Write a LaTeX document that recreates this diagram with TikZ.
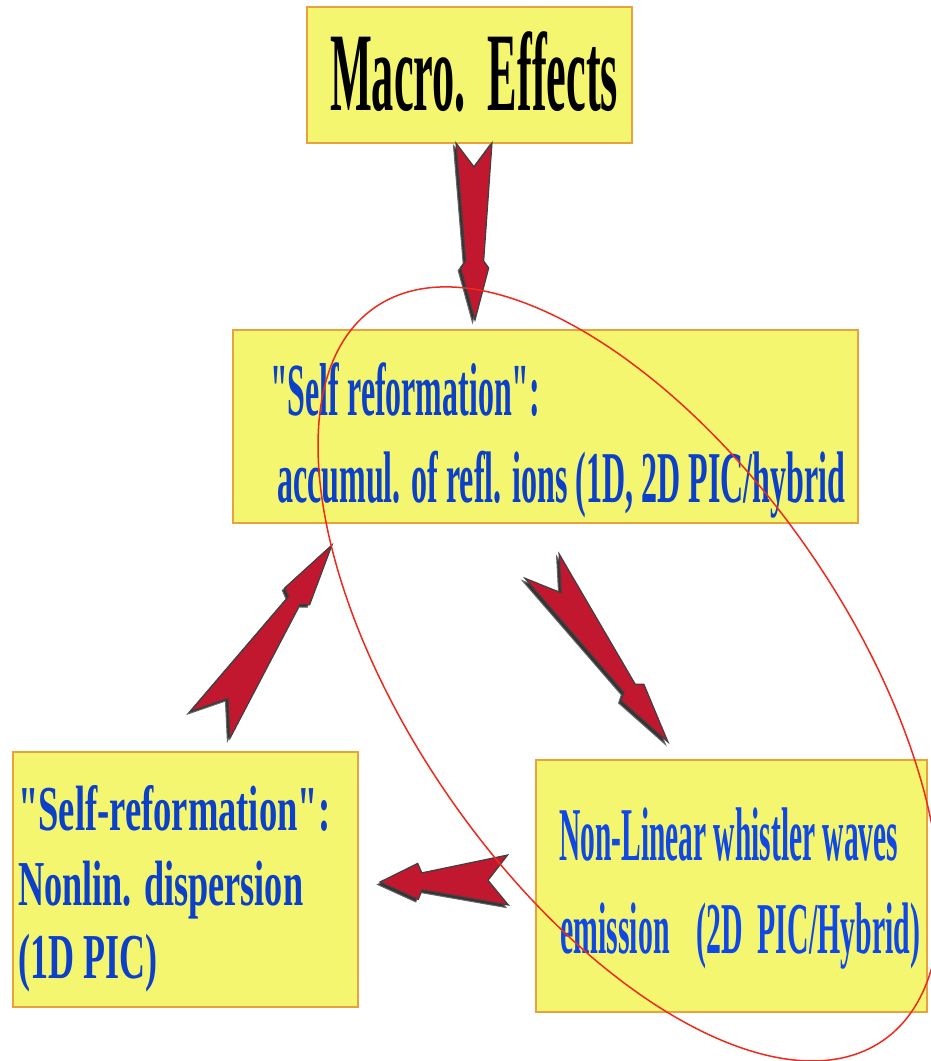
\documentclass[tikz,border=0pt]{standalone}
\usepackage{fontspec}
\usepackage{graphicx}
\setmainfont{Liberation Serif}[Ligatures=ResetAll]
\usetikzlibrary{calc}
\definecolor{boxfill}{HTML}{F3F66E}
\definecolor{boxline}{HTML}{E8A23C}
\definecolor{txtblue}{HTML}{0C40C8}
\definecolor{txtblue2}{HTML}{1048E6}
\definecolor{arrred}{HTML}{C1172F}
\definecolor{ellred}{HTML}{EE2A1E}

\newcommand\fitline[2]{\resizebox{#1pt}{\height}{#2}}
\newcommand\sq{\XeTeXglyph\XeTeXglyphindex "quotedbl"\relax}

% #1 tail coord, #2 tip coord, #3 tail half width, #4 notch depth,
% #5 neck distance from tip, #6 neck half width, #7 barb distance from tip, #8 barb half width
\newcommand\fancyarrow[8]{%
  \pgfpointdiff{\pgfpointanchor{#1}{center}}{\pgfpointanchor{#2}{center}}%
  \pgfgetlastxy{\fadx}{\fady}%
  \pgfmathsetmacro\faang{atan2(\fady,\fadx)}%
  \pgfmathsetmacro\falen{veclen(\fadx,\fady)}%
  \begin{scope}[shift={(#1)}, xshift=-2.5pt, yshift=-2.5pt, rotate=\faang]
    \path[arrshadow] (0,#3) -- ({\falen-#5},#6) -- ({\falen-#7},#8) -- (\falen,0)
      -- ({\falen-#7},-#8) -- ({\falen-#5},-#6) -- (0,-#3) -- (#4,0) -- cycle;
  \end{scope}
  \begin{scope}[shift={(#1)}, rotate=\faang]
    \path[arrbody] (0,#3) -- ({\falen-#5},#6) -- ({\falen-#7},#8) -- (\falen,0)
      -- ({\falen-#7},-#8) -- ({\falen-#5},-#6) -- (0,-#3) -- (#4,0) -- cycle;
  \end{scope}%
}

\begin{document}
\begin{tikzpicture}[x=1pt,y=-1pt,
  box/.style={draw=boxline, fill=boxfill, line width=2.5pt, rectangle, inner sep=0pt},
  txt/.style={anchor=base west, inner sep=0pt},
  arrshadow/.style={fill=black!80, draw=black!60, line width=1pt, line join=miter},
  arrbody/.style={fill=arrred, draw=black!75, line width=1.2pt, line join=miter},
  ell/.style={draw=ellred, line width=1.5pt}]
\useasboundingbox (0,0) rectangle (931,1061);
\fill[white] (0,0) rectangle (931,1061);
\clip (0,0) rectangle (931,1061);

% boxes
\node[box, minimum width=325pt, minimum height=136pt] (macro) at (469.5,75) {};
\node[box, minimum width=625pt, minimum height=193pt] (selfref) at (545.5,426.5) {};
\node[box, minimum width=345pt, minimum height=255pt] (nonlin) at (185.5,879.5) {};
\node[box, minimum width=391pt, minimum height=252pt] (whistler) at (731.5,886) {};

% texts
\node[txt, text=black, font=\bfseries\fontsize{112}{112}\selectfont] (tmacro) at (330,110) {\fitline{288}{Macro.\ \ Effects}};
\node[txt, text=txtblue, font=\bfseries\fontsize{75}{75}\selectfont] (tself1) at (270,415) {\fitline{270}{\sq Self reformation\sq:}};
\node[txt, text=txtblue, font=\bfseries\fontsize{73}{73}\selectfont] (tself2) at (277,502) {\fitline{568}{accumul. of refl. ions (1D, 2D PIC/hybrid}};
\node[txt, text=txtblue, font=\bfseries\fontsize{64}{64}\selectfont] (tnl1) at (18,830) {\fitline{312}{\sq Self-reformation\sq:}};
\node[txt, text=txtblue, font=\bfseries\fontsize{64}{64}\selectfont] (tnl2) at (18,905) {\fitline{285}{Nonlin. dispersion}};
\node[txt, text=txtblue, font=\bfseries\fontsize{64}{64}\selectfont] (tnl3) at (18,978) {\fitline{139}{(1D PIC)}};
\node[txt, text=txtblue2, font=\bfseries\fontsize{76}{76}\selectfont] (twh1) at (559,860) {\fitline{339}{Non-Linear whistler waves}};
\node[txt, text=txtblue2, font=\bfseries\fontsize{73}{73}\selectfont] (twh2) at (560,953) {\fitline{360}{emission\hspace{0.9em}(2D\hspace{0.5em}PIC/Hybrid)}};

% arrow end points
\coordinate (a1t) at (474,143);  \coordinate (a1h) at (475,320);
\coordinate (a2t) at (210,725);  \coordinate (a2h) at (332,545);
\coordinate (a3t) at (542,566);  \coordinate (a3h) at (668,742);
\coordinate (a4t) at (508,880);  \coordinate (a4h) at (380,882);

\fancyarrow{a1t}{a1h}{18}{24}{59}{9}{52}{14}
\fancyarrow{a2t}{a2h}{24}{32}{67}{7}{62}{15}
\fancyarrow{a3t}{a3h}{21}{33}{66}{7}{61}{14}
\fancyarrow{a4t}{a4h}{25}{20}{42}{8.5}{38}{18}

% ellipse
\coordinate (ec) at (629,674);
\draw[ell, rotate around={-55.25:(ec)}] (ec) ellipse [x radius=446pt, y radius=218pt];
\end{tikzpicture}
\end{document}
